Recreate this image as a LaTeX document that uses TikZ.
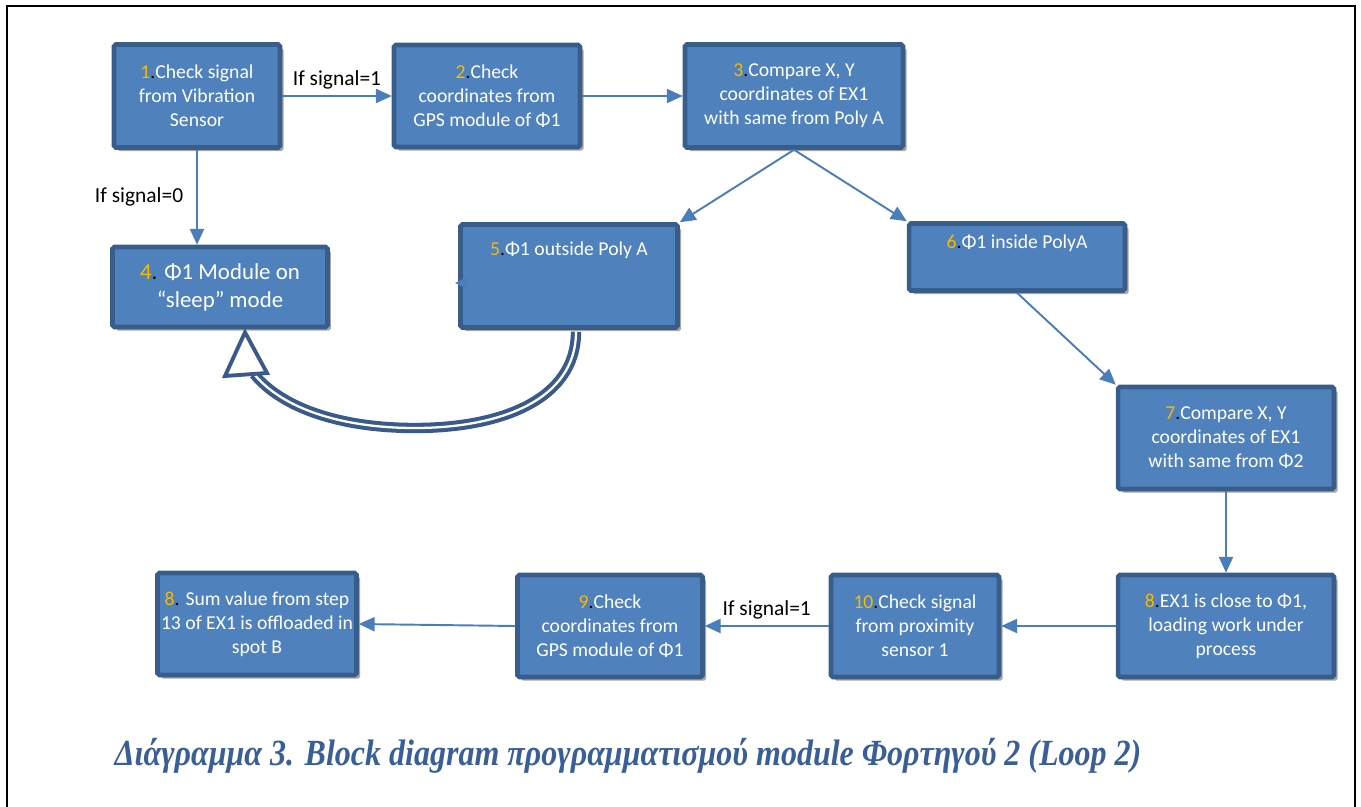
\documentclass[tikz,border=0pt]{standalone}
\usepackage{fontspec}
\setmainfont{Carlito}
\newfontfamily\captionfont{Liberation Serif}
\usepackage{tikz}
\usetikzlibrary{arrows.meta,shadows,calc}

\definecolor{boxblue}{HTML}{4F81BD}
\definecolor{boxedge}{HTML}{385D8A}
\definecolor{linkblue}{HTML}{4A7EBB}
\definecolor{loopedge}{HTML}{3A5A8C}
\definecolor{numorange}{HTML}{F7BA00}
\definecolor{capblue}{HTML}{3A5F96}

\newcommand{\stepno}[1]{\textcolor{numorange}{#1}\textcolor{black}{.}}

\tikzset{
  stepbox/.style={draw=boxedge, fill=boxblue, line width=2.6pt, rounded corners=1pt,
    text=white, align=center, inner sep=2pt, font=\fontsize{11.2}{13.6}\selectfont,
    drop shadow={shadow xshift=2pt, shadow yshift=-2pt, opacity=0.35, fill=black}},
  link/.style={draw=linkblue, line width=1.1pt, -{Triangle[length=9pt,width=8pt]}},
  cond/.style={text=black, font=\fontsize{12.2}{14}\selectfont},
}

\begin{document}
\begin{tikzpicture}[x=0.02cm, y=-0.02cm]
                \useasboundingbox (0,0) rectangle (1361,807);
                \draw[line width=1.6pt] (7,807) -- (7,6) -- (1355,6) -- (1355,807);

                % top row
                \node[stepbox, minimum width=3.32cm, minimum height=2.06cm] (s1) at (197,96)
                    {\stepno{1}Check signal\\from Vibration\\Sensor};
                \node[stepbox, minimum width=3.72cm, minimum height=2.04cm] (s2) at (487,96)
                    {\stepno{2}Check\\coordinates from\\GPS module of Φ1};
                \node[stepbox, minimum width=4.36cm, minimum height=2.06cm] (s3) at (794,96)
                    {\stepno{3}Compare X, Y\\coordinates of EX1\\with same from Poly A};

                % middle row
                \node[stepbox, minimum width=4.3cm, minimum height=1.6cm,
                    font=\fontsize{13}{15.9}\selectfont] (s4) at (220,287)
                    {\stepno{4} Φ1 Module on\\“sleep” mode};
                \node[stepbox, minimum width=4.34cm, minimum height=2.06cm] (s5) at (569,276)
                    {\stepno{5}Φ1 outside Poly A\\\strut\\\strut};
                \node[stepbox, minimum width=4.32cm, minimum height=1.34cm] (s6) at (1017,257)
                    {\stepno{6}Φ1 inside PolyA\\\strut};
                \node[stepbox, minimum width=4.32cm, minimum height=2.04cm] (s7) at (1226,438)
                    {\stepno{7}Compare X, Y\\coordinates of EX1\\with same from Φ2};

                % bottom row
                \node[stepbox, minimum width=4.32cm, minimum height=2.04cm] (s8) at (1226,626)
                    {\stepno{8}EX1 is close to Φ1,\\loading work under\\process};
                \node[stepbox, minimum width=3.36cm, minimum height=2.04cm] (s10) at (915,626)
                    {\stepno{10}Check signal\\from proximity\\sensor 1};
                \node[stepbox, minimum width=3.7cm, minimum height=2.04cm] (s9) at (610,626)
                    {\stepno{9}Check\\coordinates from\\GPS module of Φ1};
                \node[stepbox, minimum width=3.7cm, minimum height=2.04cm] (s8b) at (257,624)
                    {\stepno{8} Sum value from step\\13 of EX1 is offloaded in\\spot B};

                \draw[link] (s1.east) -- node[cond, above] {If signal=1} (s2.west);
                \draw[link] (s1.south) -- node[cond, left=4pt] {If signal=0} (s1.south |- s4.north);
                \draw[link] (s2.east) -- (s3.west);
                \draw[link] (s3.south) -- (s5.north east);
                \draw[link] (s3.south) -- (s6.north west);
                \draw[link] (s6.south) -- (s7.north west);
                \draw[link] (s7.south) -- (s8.north);
                \draw[link] (s8.west) -- (s10.east);
                \draw[link] (s10.west) -- node[cond, above] {If signal=1} (s9.east);
                \draw[link] (s9.west) -- (s8b.east);
                % stray tip inside box 5
                \fill[linkblue] ($(s5.west)+(-3,7)$) -- ++(12,-6) -- ++(0,12) -- cycle;

                % back to sleep
                \coordinate (loopA) at ($(s5.south)+(7,2)$);
                \coordinate (loopB) at (254,374);
                \coordinate (loopTip) at ($(s4.south)+(25,3)$);
                \draw[draw=loopedge, line width=2.3pt, double=white, double distance=1.3pt]
                    (loopA) .. controls (576,400) and (500,428) .. (415,428)
                    .. controls (340,428) and (282,408) .. (loopB);
                \filldraw[fill=white, draw=loopedge, line width=2.2pt, line join=miter]
                    (loopTip) -- (225,376) -- (267,373) -- cycle;

                \node[text=capblue] (cap) at (628,756)
                    {\resizebox{20.54cm}{\height}{\fontsize{21}{25}\captionfont\bfseries\itshape
                    Διάγραμμα 3. Block diagram προγραμματισμού module Φορτηγού 2 (Loop 2)}};
\end{tikzpicture}
\end{document}
